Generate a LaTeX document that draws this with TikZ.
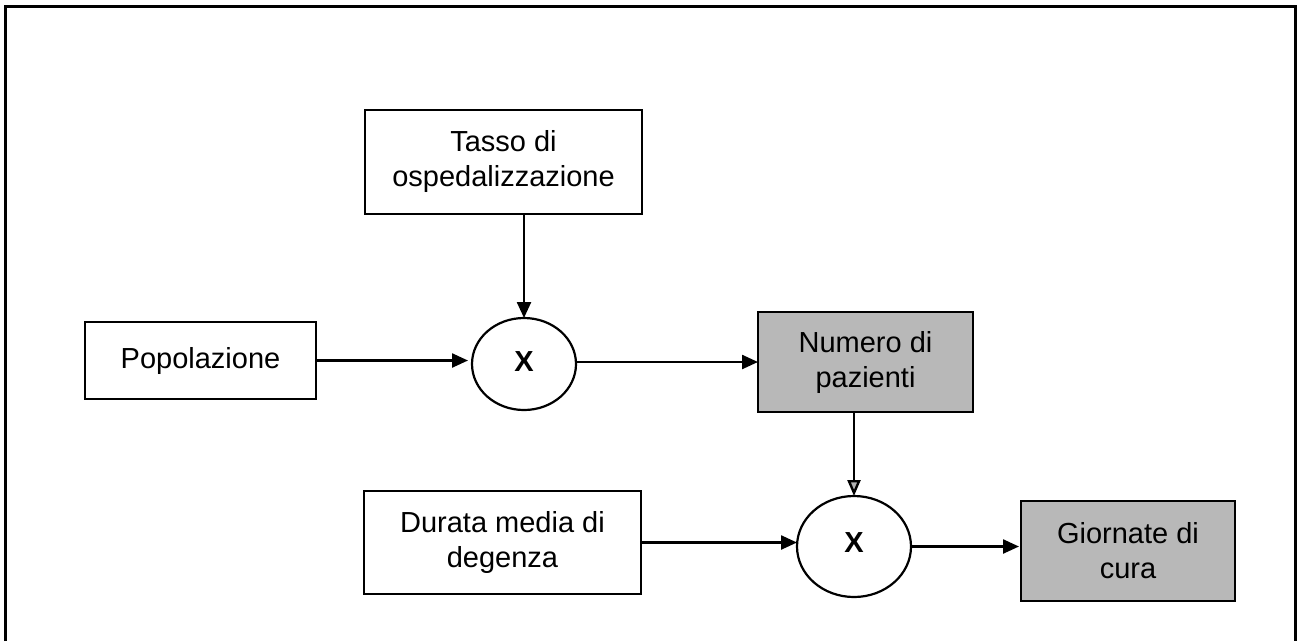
\documentclass[tikz,border=0pt]{standalone}
\usepackage{fontspec}
\setmainfont{Liberation Sans}
\usetikzlibrary{arrows.meta,shapes.geometric,calc}
\tikzset{
  box/.style={draw=black,line width=2.2pt,rectangle,inner sep=0pt,outer sep=0pt,align=center,
    font=\fontsize{29}{35}\selectfont},
  graybox/.style={box,fill=black!28},
  mult/.style={draw=black,line width=2.2pt,ellipse,inner sep=0pt,outer sep=0pt,
    font=\fontsize{29}{35}\selectfont\bfseries},
  arr/.style={line width=2.4pt,-{Triangle[length=16pt,width=14pt]}},
  openarr/.style={line width=2.4pt,-{Triangle[length=16pt,width=13pt,fill=black!30]}},
  frame/.style={line width=3pt,line join=miter}
}
\begin{document}
\begin{tikzpicture}[x=1pt,y=-1pt]
\useasboundingbox (0,0) rectangle (1297,641);
\draw[frame] (5.5,641) -- (5.5,6) -- (1295,6) -- (1295,641);

\node[box,minimum width=277pt,minimum height=104pt] (tasso) at (503.5,162)
  {\raisebox{4pt}{\begin{tabular}{@{}c@{}}Tasso di\\ospedalizzazione\end{tabular}}};
\node[box,minimum width=231pt,minimum height=77pt] (pop) at (200.5,360.5)
  {\raisebox{6pt}{Popolazione}};
\node[mult,minimum width=104pt,minimum height=92pt] (c1) at (524,364) {\raisebox{4pt}{X}};
\node[graybox,minimum width=215pt,minimum height=100pt] (num) at (865.5,362)
  {Numero di\\pazienti};
\node[box,minimum width=277pt,minimum height=103pt] (dur) at (502.5,542.5)
  {Durata media di\\degenza};
\node[mult,minimum width=114pt,minimum height=101pt] (c2) at (854,546.5) {\raisebox{7pt}{X}};
\node[graybox,minimum width=214pt,minimum height=100pt] (gio) at (1128,551)
  {Giornate di\\cura};

\draw[arr] (c1.north |- tasso.south) -- (c1.north);
\draw[arr] (pop.east) -- ($(pop.east -| c1.west)+(-4,0)$);
\draw[arr] (c1.east |- num.west) -- (num.west);
\draw[openarr] (c2.north |- num.south) -- (c2.north);
\draw[arr] (dur.east) -- (dur.east -| c2.west);
\draw[arr] (c2.east) -- ($(c2.east -| gio.west)+(-2,0)$);
\end{tikzpicture}
\end{document}
